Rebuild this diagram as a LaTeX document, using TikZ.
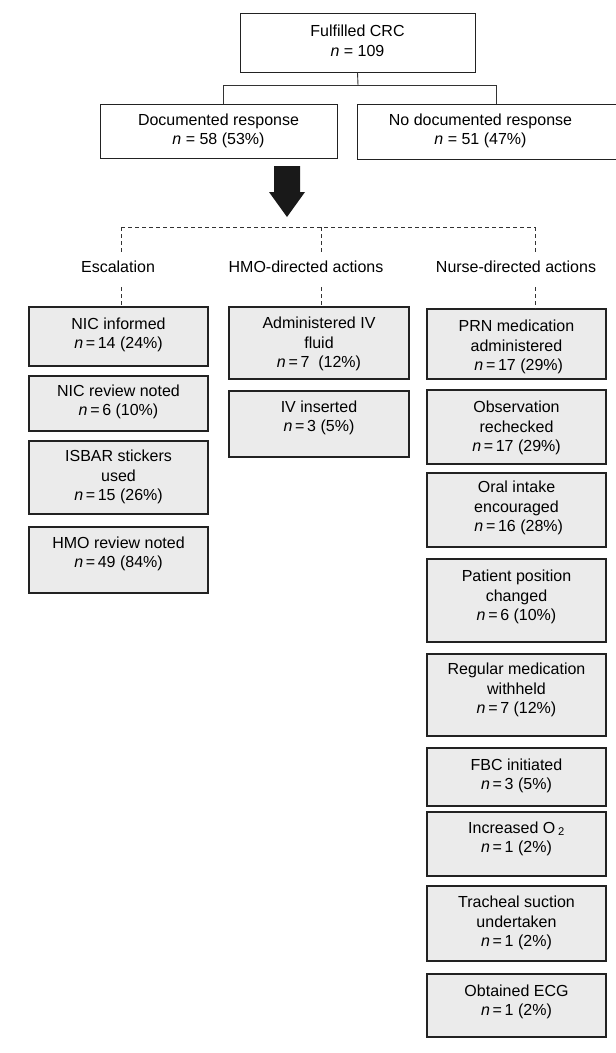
\documentclass[tikz,border=0pt]{standalone}
\usepackage{fontspec}
\setmainfont{Liberation Sans}
\usetikzlibrary{fit}
\definecolor{boxfill}{HTML}{EBEBEB}
\definecolor{boxline}{HTML}{222222}
\definecolor{conline}{HTML}{333333}
\newcommand\nval[1]{\textit{n}\,=\,#1}
\tikzset{
  plainbox/.style={draw=boxline, line width=1pt, fill=white, inner sep=0pt},
  greybox/.style={draw=boxline, line width=1.1pt, fill=boxfill, inner sep=0pt},
  txt/.style={align=center, inner sep=0pt, font=\fontsize{16}{19.5}\selectfont},
  conn/.style={draw=conline, line width=0.9pt},
  dashconn/.style={draw=conline, line width=0.9pt, dash pattern=on 4pt off 3pt},
}
% name, x1, y1, x2, y2, text y, text
\newcommand\gbx[7]{%
  \node[greybox, fit={(#2,#3) (#4,#5)}] (#1) {};
  \node[txt] (#1t) at ({(#2+#4)/2},#6) {#7};}
\begin{document}
\begin{tikzpicture}[x=1pt,y=-1pt]
\path[use as bounding box] (0,0) rectangle (616,1053);
% top boxes
\node[plainbox, fit={(240,13) (475,72)}] (top) {};
\node[txt] (topt) at (357.5,41) {Fulfilled CRC\\\textit{n} = 109};
\node[plainbox, fit={(100,104) (337,158)}] (doc) {};
\node[txt] (doct) at (218.5,131) {Documented response\\\textit{n} = 58 (53\%)};
\node[plainbox, fit={(357,104) (620,159)}] (nodoc) {};
\node[txt] (nodoct) at (480.5,131) {No documented response\\\textit{n} = 51 (47\%)};
% solid connectors
\coordinate (j) at (358,85);
\coordinate (jl) at (223,85);
\coordinate (jr) at (496,85);
\draw[conn] (top.south) -- (j);
\draw[conn] (jl) -- (jr);
\draw[conn] (jl) -- (jl |- doc.north);
\draw[conn] (jr) -- (jr |- nodoc.north);
% block arrow
\fill[black!90] (274,166) -- (300,166) -- (300,192) -- (305,192) -- (287,217) -- (269,192) -- (274,192) -- cycle;
% dashed tree
\coordinate (dl) at (121,227);
\coordinate (dm) at (321,227);
\coordinate (dr) at (535,227);
\draw[dashconn] (dl) -- (dr);
\draw[dashconn] (dl) -- (121,253);
\draw[dashconn] (dm) -- (321,253);
\draw[dashconn] (dr) -- (535,253);
\node[txt] (esc) at (118,267) {Escalation};
\node[txt] (hmo) at (306,267) {HMO-directed actions};
\node[txt] (nur) at (516,267) {Nurse-directed actions};
\coordinate (el) at (121,287);
\coordinate (em) at (321,287);
\coordinate (er) at (535,287);
% left column
\gbx{nic}{29}{307}{208}{366}{335}{NIC informed\\\nval{14 (24\%)}}
\gbx{nicr}{29}{376}{208}{431}{402}{NIC review noted\\\nval{6 (10\%)}}
\gbx{isbar}{29}{441}{208}{514}{477}{ISBAR stickers\\used\\\nval{15 (26\%)}}
\gbx{hmor}{29}{527}{208}{593}{554}{HMO review noted\\\nval{49 (84\%)}}
% middle column
\gbx{adiv}{229}{307}{409}{379}{344}{Administered IV\\fluid\\\nval{7\ \ (12\%)}}
\gbx{ivin}{229}{391}{409}{457}{418}{IV inserted\\\nval{3 (5\%)}}
% right column
\gbx{prn}{427}{309}{606}{379}{347}{PRN medication\\administered\\\ \nval{17 (29\%)}}
\gbx{obs}{427}{390}{606}{464}{428}{Observation\\rechecked\\\nval{17 (29\%)}}
\gbx{oral}{427}{473}{606}{547}{508}{Oral intake\\encouraged\\\ \nval{16 (28\%)}}
\gbx{pat}{427}{559}{606}{642}{597}{Patient position\\changed\\\nval{6 (10\%)}}
\gbx{reg}{427}{654}{606}{736}{690}{Regular medication\\withheld\\\nval{7 (12\%)}}
\gbx{fbc}{427}{748}{606}{806}{776}{FBC initiated\\\nval{3 (5\%)}}
\gbx{otwo}{427}{812}{606}{876}{839}{Increased O\,\textsubscript{2}\\\nval{1 (2\%)}}
\gbx{trach}{427}{886}{606}{961}{923}{Tracheal suction\\undertaken\\\nval{1 (2\%)}}
\gbx{ecg}{427}{974}{606}{1037}{1002}{Obtained ECG\\\nval{1 (2\%)}}
% dashed drops to boxes
\draw[dashconn] (el) -- (el |- nic.north);
\draw[dashconn] (em) -- (em |- adiv.north);
\draw[dashconn] (er) -- (er |- prn.north);
\end{tikzpicture}
\end{document}
